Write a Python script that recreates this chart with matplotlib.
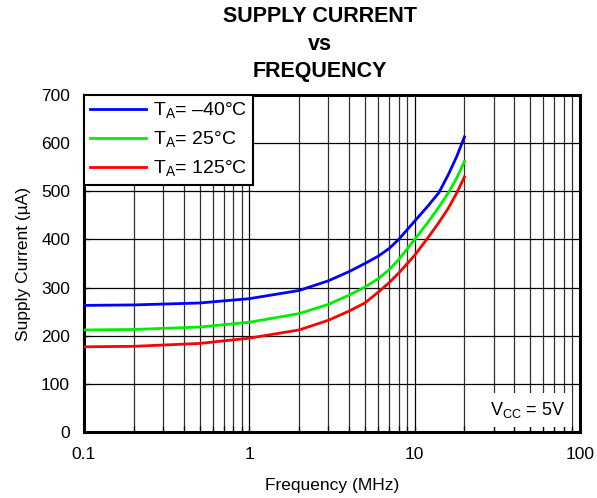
import matplotlib
matplotlib.use("Agg")
import matplotlib.pyplot as plt
from matplotlib.ticker import FixedLocator, NullFormatter, FixedFormatter

plt.rcParams['font.family'] = ['Liberation Sans', 'DejaVu Sans']
plt.rcParams['mathtext.fontset'] = 'custom'
plt.rcParams['mathtext.rm'] = 'Liberation Sans'

# frequency points (MHz)
freq = [0.1, 0.2, 0.5, 1, 2, 3, 4, 5, 6, 7, 8, 10, 12, 14, 16, 18, 20]
# supply current (uA) per temperature
i_m40 = [263, 264, 268, 277, 294, 314, 333, 350, 365, 381, 400, 438, 469, 497, 535, 573, 613]
i_25 = [212, 213, 218, 228, 246, 265, 284, 301, 318, 337, 358, 400, 435, 467, 497, 528, 562]
i_125 = [177, 178, 184, 195, 212, 232, 251, 268, 290, 310, 330, 367, 403, 435, 465, 497, 530]

labels = [r'T$_\mathrm{A}$= –40°C', r'T$_\mathrm{A}$= 25°C', r'T$_\mathrm{A}$= 125°C']
colors = ['#0000ff', '#00ee00', '#ff0000']

x_ticks = [0.1, 1, 10, 100]
x_tick_labels = ['0.1', '1', '10', '100']
y_ticks = [0, 100, 200, 300, 400, 500, 600, 700]

fig = plt.figure(figsize=(5.97, 4.98), dpi=100)
ax = fig.add_axes([0.1407, 0.1325, 0.8308, 0.6767])

for y, c, lab in zip([i_m40, i_25, i_125], colors, labels):
    ax.plot(freq, y, color=c, lw=2, label=lab, zorder=3)

ax.set_xscale('log')
ax.set_xlim(0.1, 100)
ax.set_ylim(0, 700)
ax.xaxis.set_major_locator(FixedLocator(x_ticks))
ax.xaxis.set_major_formatter(FixedFormatter(x_tick_labels))
minors = [m * d for d in [0.1, 1, 10] for m in range(2, 10)]
ax.xaxis.set_minor_locator(FixedLocator(minors))
ax.xaxis.set_minor_formatter(NullFormatter())
ax.set_yticks(y_ticks)

ax.grid(True, which='major', color='black', lw=0.9)
ax.grid(True, which='minor', axis='x', color='#303030', lw=0.9)
ax.tick_params(which='both', direction='in', length=4, width=0.9, labelsize=12.5,
               top=False, right=False)
ax.tick_params(axis='x', pad=11)
ax.tick_params(axis='y', pad=10)
for s in ax.spines.values():
    s.set_linewidth(2.2)

ax.set_xlabel('Frequency (MHz)', fontsize=12.5, labelpad=11)
ax.set_ylabel('Supply Current (µA)', fontsize=12.5, labelpad=7)

leg = ax.legend(loc='upper left', bbox_to_anchor=(0, 1), fontsize=14, frameon=True,
                fancybox=False, framealpha=1, borderaxespad=0, handlelength=2.9,
                borderpad=0.3, labelspacing=0.45, handletextpad=0.35)
leg.get_frame().set_edgecolor('black')
leg.get_frame().set_linewidth(1.5)
leg.set_zorder(5)

ax.text(0.97, 0.066, r'V$_\mathrm{CC}$ = 5V', transform=ax.transAxes, fontsize=13,
        ha='right', va='center', zorder=4,
        bbox=dict(facecolor='white', edgecolor='none', pad=5))

fig.text(0.536, 0.9116, 'SUPPLY CURRENT\nvs\nFREQUENCY', ha='center', va='center',
         fontsize=15.5, fontweight='bold', linespacing=1.38)

fig.savefig('out.png', dpi=100)
